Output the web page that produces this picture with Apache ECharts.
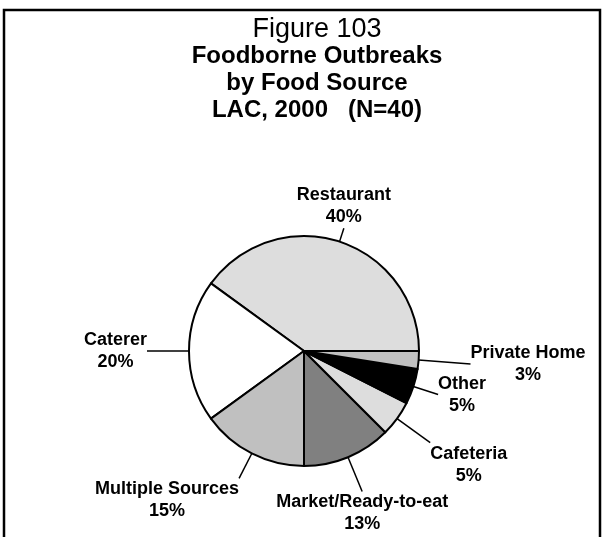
<!DOCTYPE html>
<html style="height: 100%">
<head>
<meta charset="utf-8">
<script src="https://cdn.jsdelivr.net/npm/echarts@6/dist/echarts.min.js"></script>
</head>
<body style="height: 100%; margin: 0; background: #fff">
<div id="container" style="width: 605px; height: 537px"></div>
<script type="text/javascript">

// outbreaks by food source, LAC 2000 (N=40)
var sources = ['Restaurant', 'Caterer', 'Multiple Sources', 'Market/Ready-to-eat', 'Cafeteria', 'Other', 'Private Home'];
var outbreaks = [16, 8, 6, 5, 2, 2, 1];

// slice fill, and how far each label line sticks out
var fills = ['#dddddd', '#ffffff', '#c0c0c0', '#808080', '#dddddd', '#000000', '#c0c0c0'];
var lineLengths = [14, 42, 28, 37, 41, 26, 52];

var font = '"Liberation Sans", Arial, Helvetica, sans-serif';

var pieData = [];
for (var i = 0; i < sources.length; i++) {
    pieData.push({
        name: sources[i],
        value: outbreaks[i],
        itemStyle: {color: fills[i]},
        labelLine: {length: lineLengths[i]}
    });
}

// put the text box beside the end of its line, on the side the line points to
function placeLabel(params) {
    var pts = params.labelLinePoints;
    if (!pts) return {};
    var a = pts[0], b = pts[pts.length - 1];
    var dx = b[0] - a[0], dy = b[1] - a[1];
    var len = Math.sqrt(dx * dx + dy * dy) || 1;
    dx /= len; dy /= len;
    var w = params.labelRect.width, h = params.labelRect.height;
    var ox = Math.abs(dx) > 0.4 ? (dx > 0 ? 1 : -1) * w / 2 : 0;
    var oy = Math.abs(dy) > 0.5 ? (dy > 0 ? 1 : -1) * h / 2 : 0;
    return {
        x: b[0] + ox,
        y: b[1] + oy,
        align: 'center',
        verticalAlign: 'middle',
        labelLinePoints: pts
    };
}

var dom = document.getElementById('container');
var myChart = echarts.init(dom, null, {renderer: 'canvas'});

var option = {
    animation: false,
    backgroundColor: '#fff',
    title: [
        {
            text: 'Figure 103',
            left: 312,
            top: 11,
            textAlign: 'center',
            textStyle: {fontFamily: font, fontWeight: 'normal', fontSize: 27, color: '#000'}
        },
        {
            text: 'Foodborne Outbreaks\nby Food Source\nLAC, 2000   (N=40)',
            left: 312,
            top: 38,
            textAlign: 'center',
            textStyle: {fontFamily: font, fontWeight: 'bold', fontSize: 24, lineHeight: 27, color: '#000'}
        }
    ],
    graphic: [
        {
            type: 'rect',
            shape: {x: 4, y: 10, width: 596, height: 560},
            style: {fill: null, stroke: '#000', lineWidth: 2.5},
            silent: true
        }
    ],
    series: [
        {
            type: 'pie',
            center: [304, 351],
            radius: 115,
            startAngle: 0,
            clockwise: false,
            avoidLabelOverlap: false,
            data: pieData,
            itemStyle: {borderColor: '#000', borderWidth: 2},
            label: {
                show: true,
                position: 'outside',
                fontFamily: font,
                fontWeight: 'bold',
                fontSize: 18,
                lineHeight: 22,
                color: '#000',
                formatter: function (p) {
                    return p.name + '\n' + Math.round(p.percent) + '%';
                }
            },
            labelLine: {
                show: true,
                length2: 0,
                smooth: false,
                lineStyle: {color: '#000', width: 1.5}
            },
            labelLayout: placeLabel,
            emphasis: {disabled: true}
        }
    ]
};

myChart.setOption(option);

</script>
</body>
</html>
